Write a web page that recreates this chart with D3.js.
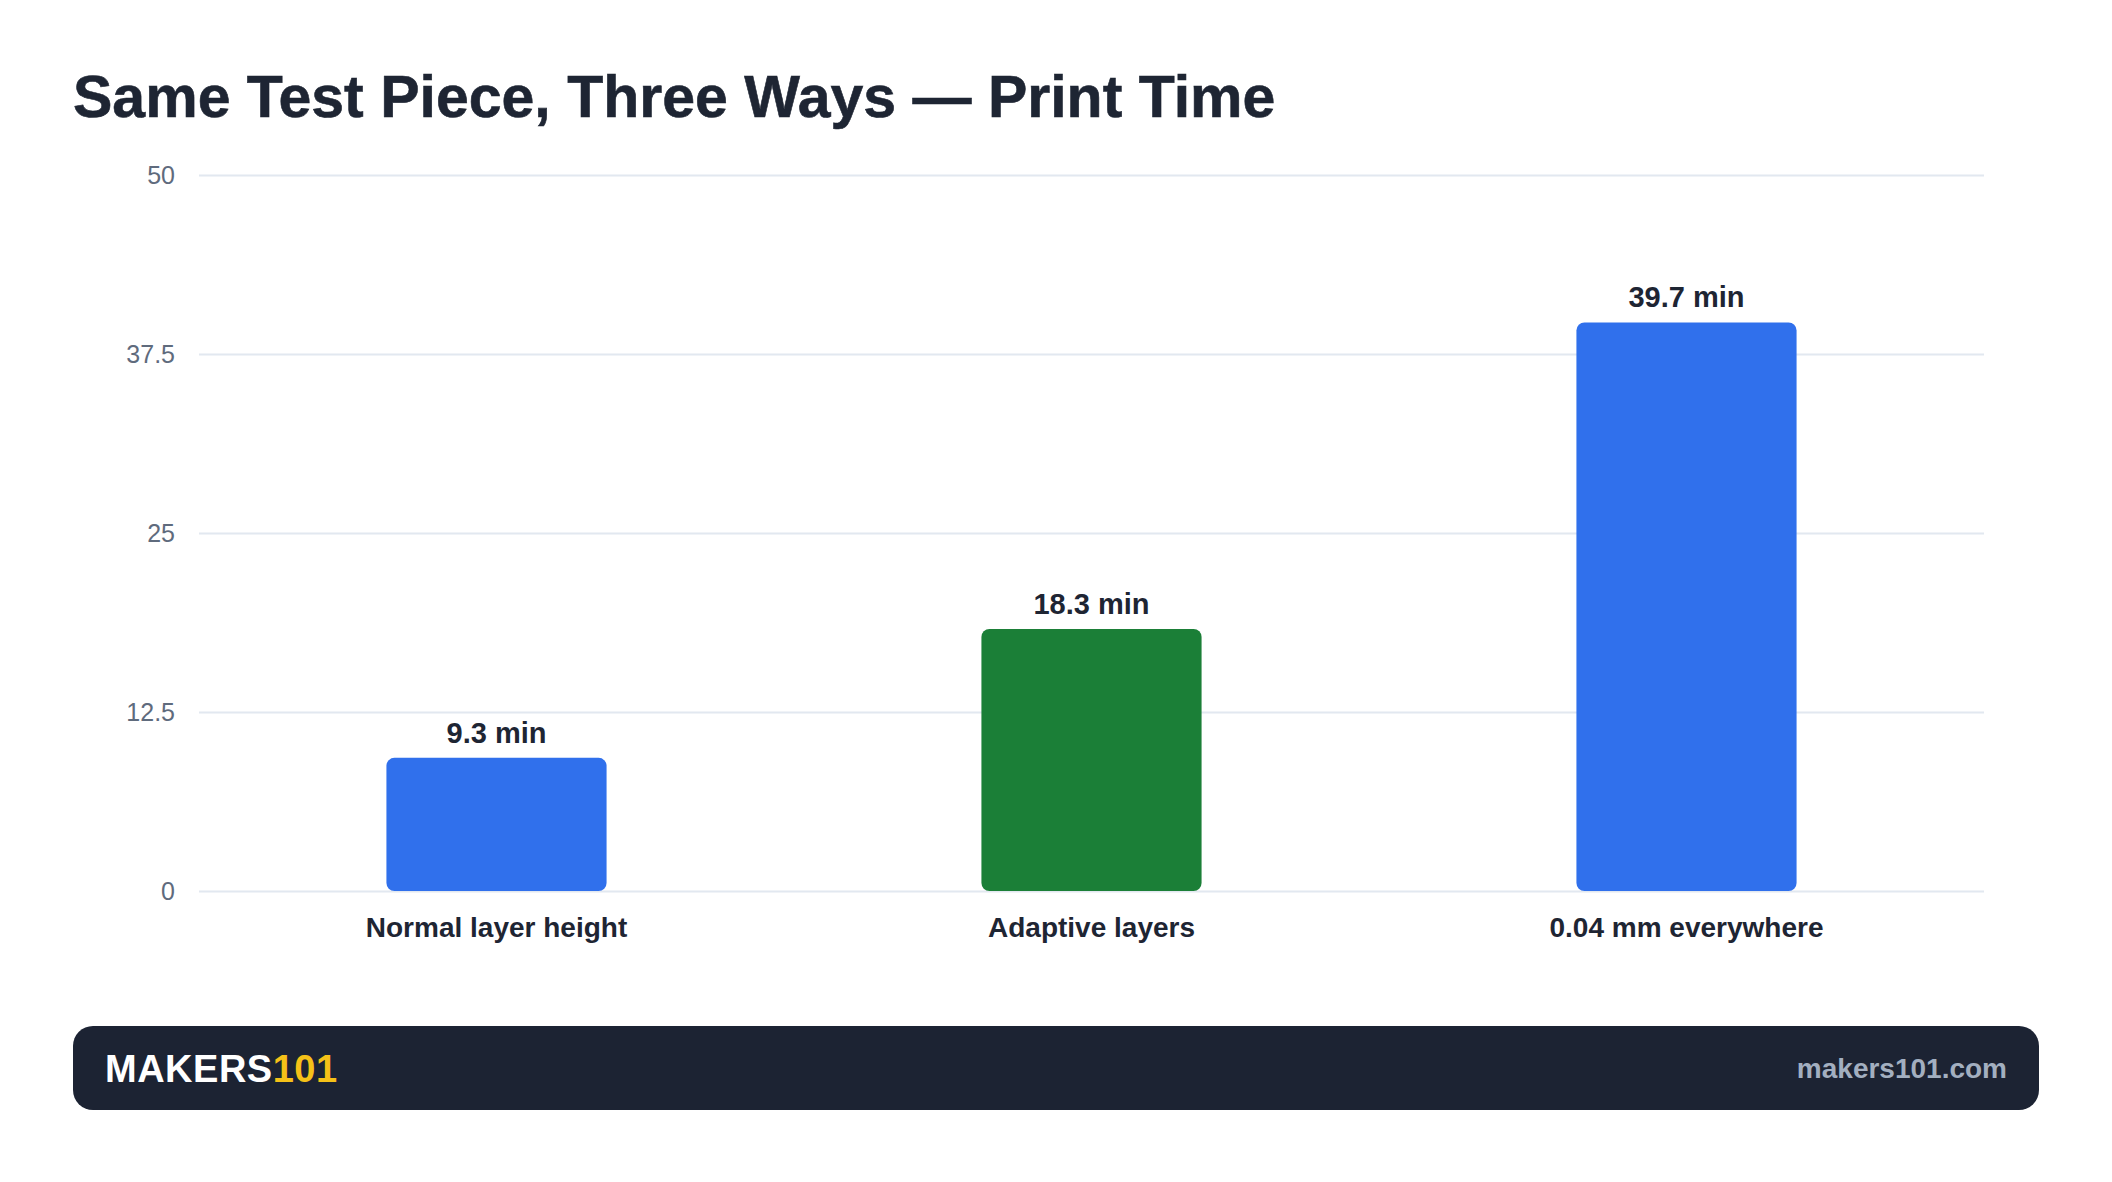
<!DOCTYPE html>
<html>
<head>
<meta charset="utf-8">
<script src="https://cdn.jsdelivr.net/npm/d3@7"></script>
<style>
  html, body { margin: 0; padding: 0; background: #ffffff; }
  svg { display: block; font-family: "Liberation Sans", Arial, Helvetica, sans-serif; }
</style>
</head>
<body>
<svg id="chart" width="2112" height="1182"></svg>
<script>
const categories = ["Normal layer height", "Adaptive layers", "0.04 mm everywhere"];
const values = [9.3, 18.3, 39.7];
const barColors = ["#3070ec", "#1b7f37", "#3070ec"];
const yTicks = [0, 12.5, 25, 37.5, 50];
const titleText = "Same Test Piece, Three Ways \u2014 Print Time";
const valueSuffix = " min";

const W = 2112, H = 1182;
const plot = { left: 199, right: 1984, top: 175, bottom: 891 };

const svg = d3.select("#chart");
svg.append("rect").attr("width", W).attr("height", H).attr("fill", "#ffffff");

svg.append("text")
  .attr("x", 73).attr("y", 117)
  .attr("fill", "#1e2533")
  .attr("font-size", 59)
  .attr("font-weight", 700)
  .attr("stroke", "#1e2533").attr("stroke-width", 0.6)
  .text(titleText);

const x = d3.scaleBand()
  .domain(categories)
  .range([plot.left, plot.right])
  .paddingInner(0.63)
  .paddingOuter(0.315);

const y = d3.scaleLinear().domain([0, 50]).range([plot.bottom, plot.top]);

// gridlines + y tick labels
const yAxis = d3.axisLeft(y)
  .tickValues(yTicks)
  .tickSize(-(plot.right - plot.left))
  .tickPadding(24)
  .tickFormat(d => String(d));
const gy = svg.append("g").attr("transform", `translate(${plot.left},0)`).call(yAxis);
gy.select(".domain").remove();
gy.selectAll(".tick line").attr("stroke", "#e2e8f0").attr("stroke-width", 2);
gy.selectAll(".tick text")
  .attr("fill", "#5f6b7d")
  .attr("font-size", 25)
  .attr("font-family", "'Liberation Sans', Arial, sans-serif");

// bars
svg.append("g").selectAll("rect")
  .data(values)
  .join("rect")
  .attr("x", (d, i) => x(categories[i]))
  .attr("y", d => y(d))
  .attr("width", x.bandwidth())
  .attr("height", d => y(0) - y(d))
  .attr("rx", 8).attr("ry", 8)
  .attr("fill", (d, i) => barColors[i]);

// value labels
svg.append("g").selectAll("text")
  .data(values)
  .join("text")
  .attr("x", (d, i) => x(categories[i]) + x.bandwidth() / 2)
  .attr("y", d => y(d) - 15)
  .attr("text-anchor", "middle")
  .attr("fill", "#1e2533")
  .attr("font-size", 29)
  .attr("font-weight", 700)
  .text(d => d.toFixed(1) + valueSuffix);

// x axis labels
const xAxis = d3.axisBottom(x).tickSize(0).tickPadding(26);
const gx = svg.append("g").attr("transform", `translate(0,${plot.bottom})`).call(xAxis);
gx.select(".domain").remove();
gx.selectAll(".tick text")
  .attr("fill", "#1e2533")
  .attr("font-size", 28)
  .attr("font-weight", 700)
  .attr("font-family", "'Liberation Sans', Arial, sans-serif");

// footer
svg.append("rect")
  .attr("x", 73).attr("y", 1026)
  .attr("width", 2039 - 73).attr("height", 84)
  .attr("rx", 20).attr("ry", 20)
  .attr("fill", "#1c2333");

const brand = svg.append("text")
  .attr("x", 105).attr("y", 1082)
  .attr("font-size", 38)
  .attr("font-weight", 700)
  .attr("letter-spacing", 0.5);
brand.append("tspan").attr("fill", "#ffffff").text("MAKERS");
brand.append("tspan").attr("fill", "#f5c118").text("101");

svg.append("text")
  .attr("x", 2007).attr("y", 1078)
  .attr("text-anchor", "end")
  .attr("fill", "#a3afc0")
  .attr("font-size", 28)
  .attr("font-weight", 700)
  .text("makers101.com");
</script>
</body>
</html>
